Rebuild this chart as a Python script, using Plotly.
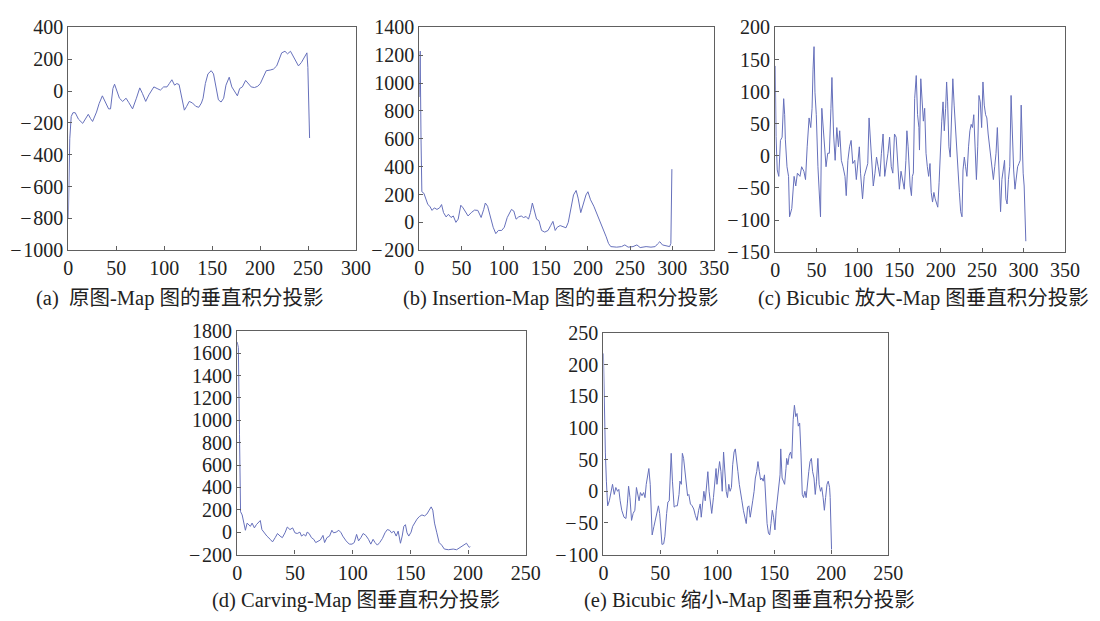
import plotly.graph_objects as go

# (a) 原图-Map 图的垂直积分投影
a_x = [0, 0.5, 1.5, 3, 4.8, 7.2, 10.6, 15, 18.5, 20.8, 23.2, 25.3, 29.4, 32.1, 35.5, 38.9, 42, 44,
       46.5, 48.2, 50.6, 53.3, 56.7, 60.2, 62.9, 67, 71, 74.5, 77.2, 80.7, 84, 86.8, 89.2, 92.6,
       96, 99.4, 102.9, 105.3, 108, 110.8, 113.1, 115.5, 118.3, 121, 123.4, 126.1, 129.5, 132.9,
       136, 138.8, 140.5, 142.9, 145.6, 149, 151.4, 154.1, 156.5, 159.3, 162, 164.4, 167.8,
       170.5, 173.6, 176.3, 178.7, 181.5, 184.9, 187.6, 190.7, 194.1, 197.5, 200.2, 202.9,
       206.4, 210.5, 213.9, 217.3, 220.1, 222.5, 225.9, 228.6, 231.7, 234.5, 237.2, 240, 243,
       246.4, 248.8, 249.8, 250.5, 250.9, 251.6]
a_y = [-800, -560, -300, -160, -136, -136, -177, -203, -167, -146, -173, -191, -132, -79, -30,
       -75, -112, -112, 16, 43, 6, -45, -65, -45, -71, -112, -45, 20, -14, -65, -24, 6, 26, 16,
       6, 26, 26, 47, 71, 37, 47, 41, -45, -120, -96, -65, -75, -96, -102, -75, -45, 47, 108,
       128, 108, 6, -55, -69, -45, 37, 87, 26, -4, -30, 16, 26, 67, 47, 26, 22, 30, 47, 87, 128,
       132, 138, 158, 199, 240, 250, 234, 250, 219, 189, 158, 179, 219, 240, 148, -14, -278,
       -295]

# (b) Insertion-Map 图的垂直积分投影
b_x = [0, 1, 2, 3, 5.4, 7.4, 10.1, 12.4, 15.1, 17.8, 20.9, 24, 26.4, 28.7, 31.8, 34.5, 37.6,
       40.3, 43.4, 46.1, 49.2, 51.9, 55, 57.8, 61.6, 65.5, 69.4, 73.3, 76.4, 78.3, 81, 83.7,
       87.6, 90.7, 93.8, 97.7, 100.8, 104.3, 107, 109.3, 112.1, 114.8, 117.8, 120.9, 123.6,
       126.7, 129.5, 131.8, 134.1, 136.4, 139.1, 141.9, 145, 148.8, 152.7, 155.8, 158.5, 161.2,
       163.6, 167.1, 170.2, 174, 176.7, 179.8, 182.9, 186, 188.4, 191.5, 194.6, 197.7, 200,
       203.1, 207, 210.9, 214.7, 218.6, 221.7, 224.4, 227.1, 234.1, 239.9, 243.8, 247.7, 253.5,
       258.1, 262, 269, 274.8, 279.8, 282.6, 285.3, 288.4, 292.2, 296.9, 298.4, 299.6]
b_y = [900, 1230, 600, 220, 209, 174, 128, 116, 86, 104, 93, 104, 128, 70, 39, 58, 35, 46, 0,
       23, 123, 104, 76, 46, 70, 88, 86, 35, 93, 139, 116, 46, -35, -81, -58, -58, -35, 35, 70,
       93, 81, 23, 39, 46, 35, 42, 23, 70, 139, 81, 23, 12, -58, -70, -58, -23, 7, -58, -35,
       -23, -30, -39, 0, 93, 197, 229, 174, 70, 128, 197, 220, 162, 116, 58, 12, -46, -104,
       -151, -174, -178, -174, -162, -178, -174, -162, -181, -174, -178, -174, -155, -139,
       -162, -169, -174, -151, 382]

# (c) Bicubic 放大-Map 图垂直积分投影
c_x = [0, 1, 2.4, 4.3, 6.3, 8.3, 10.2, 11.4, 12.2, 14.2, 16.1, 17.3, 20, 22.8, 24.8, 26.8,
       29.9, 31.9, 34.6, 36.6, 38.6, 40.9, 42.9, 44.5, 45.7, 46.9, 48, 49.6, 51.6, 53.5, 54.7,
       56.3, 57.5, 59.4, 61.4, 63.4, 65.4, 67.3, 68.5, 70.5, 72.4, 74.4, 76.4, 77.9, 79.9,
       81.9, 84.3, 85.8, 87.8, 89.8, 91.7, 93.7, 96.1, 98, 100, 101.6, 103.1, 105.5, 107.5,
       109.4, 111.8, 113.4, 115, 116.5, 118.5, 120.5, 122.4, 124.4, 126.4, 128.3, 130.3,
       132.3, 134.3, 136.2, 138.2, 140.2, 142.1, 144.1, 146.1, 148, 150, 152, 154, 155.9,
       157.9, 159.1, 160.6, 163, 164.6, 165.7, 166.9, 168.5, 170.4, 172, 173.6, 174.3, 175.9,
       177.5, 179, 180.6, 182.2, 183.8, 185.4, 187, 188.5, 190.1, 191.7, 193.3, 194.9, 196.4,
       198, 199.6, 201.2, 202.8, 204.3, 205.9, 207.1, 208.3, 209.9, 211.5, 213, 214.6, 216.2,
       217.8, 219.4, 221, 222.5, 224.1, 225.7, 226.9, 228.5, 230, 231.6, 233.6, 235.2, 236.8,
       238.3, 239.9, 241.5, 243.1, 244.7, 246.2, 247.8, 249.4, 251, 252.6, 254.2, 255.7,
       257.3, 258.9, 260.5, 262.1, 263.6, 265.2, 266.8, 268.4, 270, 271.5, 272.3, 273.9,
       275.5, 277.1, 278.7, 280.2, 281.8, 283.4, 285, 286.6, 288.1, 289.7, 291.3, 292.9,
       294.5, 296, 297.2, 298.4, 299.6, 300.8, 302, 302.8]
c_y = [140, 30, -22, -32, 24, 29, 89, 64, 26, -17, -32, -95, -82, -32, -47, -27, -32, -17,
       -24, -37, 14, 59, 44, 74, 135, 170, 99, 64, -17, -77, -95, 74, 54, 19, -17, 4, 4, 74,
       122, 34, -7, 44, 14, 39, -7, -17, -32, -62, -7, 14, 24, -12, -7, -37, -7, 14, -27, -67,
       -32, -22, -12, 59, 24, -7, -47, -27, -2, -17, -32, 4, 34, -32, -17, 4, 29, -17, -27,
       34, 29, -22, -52, -24, -37, -52, -7, 39, 14, -47, -62, -32, -27, 89, 125, 64, 44, 9,
       120, 84, 54, 74, 4, -17, -32, -12, -57, -72, -57, -67, -75, -80, -42, 24, 54, 84, 39,
       74, 115, 84, 14, -2, 54, 120, 79, 39, 4, -22, -57, -87, -95, -22, -2, -17, -32, 14,
       39, 49, 44, 64, -2, -37, 14, 94, 84, 44, 115, 79, 64, 59, 34, 14, -7, -17, -37, -17,
       4, 44, -7, -42, -87, -37, -22, -7, -67, -75, -37, -17, 94, 14, -22, -52, -37, -17,
       -12, -7, 79, 4, -27, -47, -117, -133]

# (d) Carving-Map 图垂直积分投影
d_x = [0, 1, 2, 2.9, 4.3, 5.7, 7.1, 8.6, 10, 11.4, 12.9, 14.9, 16.6, 18.6, 20, 21.4, 23.4,
       25.7, 28.6, 30.6, 32.9, 34.9, 37.1, 39.1, 41.4, 43.4, 45.7, 48, 50, 52, 54.3, 55.7,
       57.7, 59.4, 60.6, 62.3, 64.3, 66.3, 68, 70, 72, 74.3, 75.7, 77.7, 80, 82, 83.4, 85.7,
       88, 90, 91.4, 94.3, 97.1, 99.4, 101.4, 103.4, 105.1, 107.1, 109.1, 111.4, 113.7,
       115.7, 117.7, 119.4, 121.4, 123.4, 125.7, 128, 130, 132, 133.7, 135.7, 137.7, 139.4,
       141.4, 142.9, 144.3, 145.7, 147.1, 148.6, 150.6, 152, 153.7, 155.7, 157.7, 160, 162.3,
       164.3, 166.3, 168, 169.4, 170.9, 172.9, 174.9, 177.1, 179.4, 182.9, 187.1, 190, 192.9,
       195.7, 198.6, 200, 201.1, 201.7]
d_y = [1700, 1650, 870, 183, 154, 81, 17, 81, 67, 52, 81, 38, 67, 87, 104, 23, -6, -35, -64,
       -87, -49, -12, -35, -49, -6, 46, 23, 38, -6, -12, 0, -35, -20, -35, 0, -12, -49, -64,
       -93, -78, -70, -29, -93, -49, -35, 17, -6, 0, 17, -6, -35, -78, -107, -107, -93, -20,
       -78, -49, -12, -29, -64, -107, -64, -93, -116, -93, -58, -6, 23, 17, -6, 9, -35, 9,
       -99, -35, 52, 67, -6, -35, 0, 52, 87, 116, 139, 154, 145, 162, 197, 226, 197, 81, -6,
       -93, -116, -151, -157, -151, -157, -136, -116, -99, -122, -136, -128]

# (e) Bicubic 缩小-Map 图垂直积分投影
e_x = [0, 1, 1.7, 2.6, 3.7, 5.2, 6.6, 8, 9.5, 10.9, 12.4, 13.5, 14.7, 16.1, 18.1, 19.8, 21,
       22.1, 23.3, 24.7, 26.1, 27.6, 29, 29.9, 31.3, 32.5, 33.9, 35.3, 36.5, 37.6, 39.1, 39.9,
       41.1, 42, 42.8, 44.3, 45.7, 47.1, 48.3, 49.4, 50.6, 51.4, 52.9, 54, 55.5, 56.6, 57.8,
       58.6, 59.5, 60.6, 62.1, 63.5, 64.9, 66.4, 67.2, 68.4, 69.3, 70.4, 71.6, 72.7, 73.9, 75,
       76.4, 77.9, 79.3, 80.7, 82.2, 83.6, 85, 85.9, 87.1, 88.2, 89.4, 90.5, 91.7, 92.8, 94,
       95.1, 96.6, 98, 98.9, 99.7, 100.9, 102, 103.2, 104.3, 105.5, 106.6, 107.8, 108.9,
       110.1, 111.2, 112.4, 113.5, 114.7, 115.8, 117, 118.1, 119.3, 120.4, 121.6, 122.9,
       124.3, 125.4, 126.6, 127.7, 128.9, 130, 131.1, 132.3, 133.4, 134.6, 135.7, 136.9, 138,
       139.1, 140.3, 141.4, 142.6, 143.7, 144.9, 146, 147.1, 148.3, 149.4, 150.6, 151.7,
       152.9, 154, 155.1, 155.7, 156.9, 158, 159.1, 160.3, 160.9, 162, 163.1, 164.3, 165.4,
       166.6, 167.7, 168.9, 170, 171.1, 172.3, 173.4, 174.6, 175.7, 176.9, 178, 179.1, 180.3,
       181.4, 182.6, 183.7, 184.9, 186, 187.1, 188.3, 189.4, 190.6, 191.7, 192.9, 194, 195.1,
       196.3, 197.4, 198.6, 199.1, 199.7, 200.3]
e_y = [218, 110, 62, 16, -23, -15, 0, 11, -5, 6, 0, 3, -15, -30, -41, -43, -20, 8, -10, -46,
       -35, -30, 6, -5, -15, -2, -7, -2, -10, 11, 31, 36, 11, -30, -69, -56, -46, -35, -23,
       -35, -71, -84, -83, -71, -35, -17, -15, 21, 60, 16, -25, -23, -23, -5, 16, 11, 60, 52,
       31, 16, -7, -5, -20, -23, -28, -38, -46, -30, -20, -41, -15, 0, -15, 6, 31, 0, -20,
       -35, -10, 26, 36, 11, 31, 47, 31, 0, 62, 26, 0, -10, 11, 0, 6, 42, 62, 67, 52, 31, 11,
       -5, -15, -30, -46, -51, -25, -23, -41, -30, -15, 0, 21, 31, 47, 31, 18, 21, 16, 26,
       -10, -51, -66, -69, -51, -30, -41, -61, -30, -10, 11, 26, 67, 21, 16, 11, 36, 52, 42,
       57, 62, 52, 113, 136, 118, 123, 103, 108, 62, -5, -10, 0, -10, 16, 31, 47, 52, 31, 21,
       -5, 16, 52, 11, 0, 6, -10, -30, -10, 11, 16, 6, -10, -51, -92]

captions = ["(a)\u00a0\u00a0原图-Map 图的垂直积分投影",
            "(b) Insertion-Map 图的垂直积分投影",
            "(c) Bicubic 放大-Map 图垂直积分投影",
            "(d) Carving-Map 图垂直积分投影",
            "(e) Bicubic 缩小-Map 图垂直积分投影"]

W, H = 1100, 621
LINE = "#6670bb"
FRAME = "#606060"
SERIF = "Liberation Serif, Times New Roman, Noto Sans CJK SC, serif"

# panel boxes in pixels: left, right, top, bottom
boxes = [(64.5, 357.5, 17, 248), (422, 722.5, 17, 248), (784.5, 1079.5, 17, 250),
         (236.5, 530.5, 331.5, 563.5), (609.5, 899.5, 334, 563.5)]
xranges = [[0, 300], [0, 350], [0, 350], [0, 250], [0, 250]]
yranges = [[-1000, 400], [-200, 1400], [-150, 200], [-200, 1800], [-100, 250]]
ydticks = [200, 200, 50, 200, 50]
series = [(a_x, a_y), (b_x, b_y), (c_x, c_y), (d_x, d_y), (e_x, e_y)]
cap_pos = [(178, 298), (566, 298), (936, 298), (358, 611), (758, 611)]


def tick_label(v):
    # MATLAB-style long minus sign with a hair space before the digits
    return ("\u2212\u200a" + str(-v)) if v < 0 else str(v)


fig = go.Figure()
layout = {}
for i, ((xs, ys), box, xr, yr, dy) in enumerate(zip(series, boxes, xranges, yranges, ydticks)):
    n = "" if i == 0 else str(i + 1)
    fig.add_trace(go.Scatter(x=xs, y=ys, mode="lines", xaxis="x" + n, yaxis="y" + n,
                             line=dict(color=LINE, width=1), showlegend=False,
                             hoverinfo="skip"))
    l, r, t, b = box
    common = dict(showgrid=False, zeroline=False, showline=True, linecolor=FRAME,
                  linewidth=1.3, mirror=True, ticks="inside", ticklen=4, tickcolor=FRAME,
                  tickfont=dict(family=SERIF, size=20, color="#222222"))
    xt = list(range(xr[0], xr[1] + 1, 50))
    yt = list(range(yr[0], yr[1] + 1, dy))
    layout["xaxis" + n] = dict(domain=[l / W, r / W], range=xr, anchor="y" + n,
                               tickmode="array", tickvals=xt,
                               ticktext=[tick_label(v) for v in xt], **common)
    layout["yaxis" + n] = dict(domain=[1 - b / H, 1 - t / H], range=yr, anchor="x" + n,
                               tickmode="array", tickvals=yt,
                               ticktext=[tick_label(v) for v in yt], **common)

annotations = [dict(text=c, x=cx / W, y=1 - cy / H, xref="paper", yref="paper",
                    showarrow=False, xanchor="center", yanchor="middle",
                    font=dict(family=SERIF, size=20.5, color="#222222"))
               for c, (cx, cy) in zip(captions, cap_pos)]

fig.update_layout(width=W, height=H, margin=dict(l=0, r=0, t=0, b=0),
                  paper_bgcolor="white", plot_bgcolor="white",
                  annotations=annotations, **layout)
fig.write_html("out.html")
